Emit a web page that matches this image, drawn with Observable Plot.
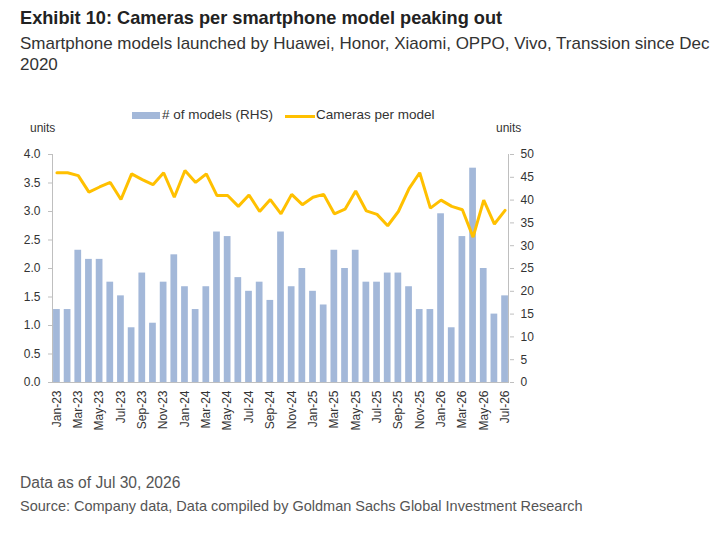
<!DOCTYPE html>
<html><head><meta charset="utf-8">
<script src="https://cdn.jsdelivr.net/npm/d3@7"></script>
<script src="https://cdn.jsdelivr.net/npm/@observablehq/plot@0.6"></script>
<style>
body{margin:0;background:#fff;width:715px;height:539px;position:relative;overflow:hidden;font-family:"Liberation Sans",Arial,sans-serif;}
.abs{position:absolute;white-space:nowrap;}
#title{left:20px;top:7px;font-weight:bold;font-size:18.2px;line-height:22px;color:#222;}
#subtitle{left:20px;top:33px;width:692px;white-space:normal;font-size:17px;line-height:21px;color:#333;}
.leg{font-size:13.5px;color:#333;line-height:16px;}
.units{font-size:12px;color:#333;}
#chart{position:absolute;left:0;top:140px;}
#note{left:20px;top:474px;font-size:15.6px;color:#555;}
#source{left:20px;top:498px;font-size:14.5px;color:#555;}
</style></head><body>
<div id="title" class="abs">Exhibit 10: Cameras per smartphone model peaking out</div>
<div id="subtitle" class="abs">Smartphone models launched by Huawei, Honor, Xiaomi, OPPO, Vivo, Transsion since Dec 2020</div>
<div class="abs" style="left:132px;top:112px;width:28px;height:7px;background:#a3b8d9;"></div>
<div class="abs leg" style="left:162px;top:107px;"># of models (RHS)</div>
<div class="abs" style="left:285px;top:115px;width:30px;height:3px;background:#ffc000;"></div>
<div class="abs leg" style="left:316px;top:107px;">Cameras per model</div>
<div class="abs units" style="left:30px;top:121px;">units</div>
<div class="abs units" style="left:496px;top:121px;">units</div>
<div id="chart"></div>
<div id="note" class="abs">Data as of Jul 30, 2026</div>
<div id="source" class="abs">Source: Company data, Data compiled by Goldman Sachs Global Investment Research</div>
<script>
const months = ["Jan-23","Feb-23","Mar-23","Apr-23","May-23","Jun-23","Jul-23","Aug-23","Sep-23","Oct-23","Nov-23","Dec-23",
"Jan-24","Feb-24","Mar-24","Apr-24","May-24","Jun-24","Jul-24","Aug-24","Sep-24","Oct-24","Nov-24","Dec-24",
"Jan-25","Feb-25","Mar-25","Apr-25","May-25","Jun-25","Jul-25","Aug-25","Sep-25","Oct-25","Nov-25","Dec-25",
"Jan-26","Feb-26","Mar-26","Apr-26","May-26","Jun-26","Jul-26"];
const models = [16,16,29,27,27,22,19,12,24,13,22,28,
21,16,21,33,32,23,20,22,18,33,21,25,
20,17,29,25,29,22,22,24,24,21,16,16,
37,12,32,47,25,15,19];
const cameras = [3.68,3.68,3.63,3.34,3.43,3.51,3.21,3.66,3.56,3.47,3.68,3.25,
3.72,3.51,3.66,3.28,3.28,3.09,3.29,3.00,3.21,2.96,3.30,3.12,
3.25,3.30,2.96,3.04,3.36,3.01,2.95,2.75,3.00,3.40,3.68,3.06,
3.20,3.09,3.03,2.55,3.20,2.78,3.02];
const leftTicks = [0,0.5,1,1.5,2,2.5,3,3.5,4];
const rightTicks = [0,5,10,15,20,25,30,35,40,45,50];
const xTickLabels = months.filter((d,i)=>i%2===0);
const leftMax = 4, rightMax = 50;

const data = months.map((m,i)=>({month:m, models:models[i], cameras:cameras[i]}));
const toLeft = v => v * leftMax / rightMax;
const axisColor = "#bfbfbf";

const frameLines = (index, scales, values, dims) => {
  const g = d3.create("svg:g").attr("stroke", axisColor).attr("stroke-width", 1);
  const y1 = dims.marginTop, y2 = dims.height - dims.marginBottom;
  const xl = dims.marginLeft + 0.5, xr = dims.width - dims.marginRight - 0.5;
  g.append("line").attr("x1", xl).attr("x2", xl).attr("y1", y1).attr("y2", y2);
  g.append("line").attr("x1", xr).attr("x2", xr).attr("y1", y1).attr("y2", y2);
  return g.node();
};

const chart = Plot.plot({
  width: 715, height: 300,
  marginLeft: 52, marginRight: 206, marginTop: 14, marginBottom: 58,
  x: {type: "band", domain: months, paddingInner: 0.37, paddingOuter: 0.1, round: false, label: null},
  y: {domain: [0, leftMax], label: null},
  style: {fontFamily: "'Liberation Sans', Arial, sans-serif", fontSize: "12px", color: "#333", background: "transparent"},
  marks: [
    Plot.barY(data, {x: "month", y: d => toLeft(d.models), fill: "#a3b8d9"}),
    Plot.ruleY([0], {stroke: axisColor}),
    Plot.line(data, {x: "month", y: "cameras", stroke: "#ffc000", strokeWidth: 3, strokeLinejoin: "miter"}),
    frameLines,
    Plot.axisY({anchor: "left", ticks: leftTicks, tickSize: 4, tickPadding: 8, stroke: axisColor, tickFormat: d3.format(".1f"), label: null}),
    Plot.axisY({anchor: "right", ticks: rightTicks.map(toLeft), tickSize: 4, tickPadding: 7, stroke: axisColor, tickFormat: d => String(Math.round(d * rightMax / leftMax)), label: null}),
    Plot.axisX({anchor: "bottom", ticks: xTickLabels, tickSize: 0, tickPadding: 8, tickRotate: -90, label: null})
  ]
});
document.getElementById("chart").appendChild(chart);
</script>
</body></html>
